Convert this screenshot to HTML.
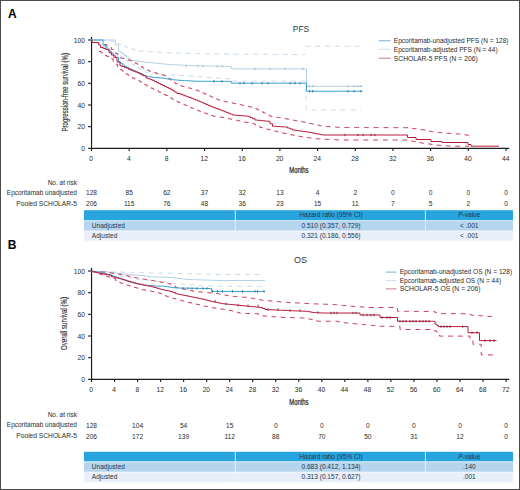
<!DOCTYPE html>
<html><head><meta charset="utf-8"><title>KM curves</title>
<style>
html,body{margin:0;padding:0;background:#fff;}
body{width:520px;height:490px;overflow:hidden;font-family:"Liberation Sans", sans-serif;}
svg{display:block;}
</style></head><body>
<svg width="520" height="490" viewBox="0 0 520 490" font-family="'Liberation Sans', sans-serif">
<rect x="0" y="0" width="520" height="490" fill="#fff"/>
<text x="8" y="17.5" font-size="12" font-weight="bold" fill="#000">A</text>
<text x="301.00" y="31.70" font-size="9.10" text-anchor="middle" fill="#333" textLength="16.4" lengthAdjust="spacingAndGlyphs">PFS</text>
<line x1="91.55" y1="37.00" x2="91.55" y2="148.90" stroke="#1e1e1e" stroke-width="1.2"/>
<line x1="90.95" y1="148.35" x2="509.3" y2="148.35" stroke="#1e1e1e" stroke-width="1.2"/>
<line x1="88" y1="148.35" x2="91.2" y2="148.35" stroke="#1e1e1e" stroke-width="1.1"/>
<text x="84.90" y="150.95" font-size="7.10" text-anchor="end" fill="#2a2a2a" textLength="3.73" lengthAdjust="spacingAndGlyphs">0</text>
<line x1="88" y1="126.68" x2="91.2" y2="126.68" stroke="#1e1e1e" stroke-width="1.1"/>
<text x="84.90" y="129.28" font-size="7.10" text-anchor="end" fill="#2a2a2a" textLength="7.45" lengthAdjust="spacingAndGlyphs">20</text>
<line x1="88" y1="105.01" x2="91.2" y2="105.01" stroke="#1e1e1e" stroke-width="1.1"/>
<text x="84.90" y="107.61" font-size="7.10" text-anchor="end" fill="#2a2a2a" textLength="7.45" lengthAdjust="spacingAndGlyphs">40</text>
<line x1="88" y1="83.34" x2="91.2" y2="83.34" stroke="#1e1e1e" stroke-width="1.1"/>
<text x="84.90" y="85.94" font-size="7.10" text-anchor="end" fill="#2a2a2a" textLength="7.45" lengthAdjust="spacingAndGlyphs">60</text>
<line x1="88" y1="61.67" x2="91.2" y2="61.67" stroke="#1e1e1e" stroke-width="1.1"/>
<text x="84.90" y="64.27" font-size="7.10" text-anchor="end" fill="#2a2a2a" textLength="7.45" lengthAdjust="spacingAndGlyphs">80</text>
<line x1="88" y1="40.00" x2="91.2" y2="40.00" stroke="#1e1e1e" stroke-width="1.1"/>
<text x="84.90" y="42.60" font-size="7.10" text-anchor="end" fill="#2a2a2a" textLength="11.18" lengthAdjust="spacingAndGlyphs">100</text>
<line x1="91.50" y1="148.00" x2="91.50" y2="151.00" stroke="#1e1e1e" stroke-width="1.1"/>
<text x="91.20" y="161.00" font-size="7.10" text-anchor="middle" fill="#2a2a2a" textLength="3.73" lengthAdjust="spacingAndGlyphs">0</text>
<line x1="129.18" y1="148.00" x2="129.18" y2="151.00" stroke="#1e1e1e" stroke-width="1.1"/>
<text x="128.88" y="161.00" font-size="7.10" text-anchor="middle" fill="#2a2a2a" textLength="3.73" lengthAdjust="spacingAndGlyphs">4</text>
<line x1="166.86" y1="148.00" x2="166.86" y2="151.00" stroke="#1e1e1e" stroke-width="1.1"/>
<text x="166.56" y="161.00" font-size="7.10" text-anchor="middle" fill="#2a2a2a" textLength="3.73" lengthAdjust="spacingAndGlyphs">8</text>
<line x1="204.54" y1="148.00" x2="204.54" y2="151.00" stroke="#1e1e1e" stroke-width="1.1"/>
<text x="204.24" y="161.00" font-size="7.10" text-anchor="middle" fill="#2a2a2a" textLength="7.45" lengthAdjust="spacingAndGlyphs">12</text>
<line x1="242.22" y1="148.00" x2="242.22" y2="151.00" stroke="#1e1e1e" stroke-width="1.1"/>
<text x="241.92" y="161.00" font-size="7.10" text-anchor="middle" fill="#2a2a2a" textLength="7.45" lengthAdjust="spacingAndGlyphs">16</text>
<line x1="279.90" y1="148.00" x2="279.90" y2="151.00" stroke="#1e1e1e" stroke-width="1.1"/>
<text x="279.60" y="161.00" font-size="7.10" text-anchor="middle" fill="#2a2a2a" textLength="7.45" lengthAdjust="spacingAndGlyphs">20</text>
<line x1="317.58" y1="148.00" x2="317.58" y2="151.00" stroke="#1e1e1e" stroke-width="1.1"/>
<text x="317.28" y="161.00" font-size="7.10" text-anchor="middle" fill="#2a2a2a" textLength="7.45" lengthAdjust="spacingAndGlyphs">24</text>
<line x1="355.26" y1="148.00" x2="355.26" y2="151.00" stroke="#1e1e1e" stroke-width="1.1"/>
<text x="354.96" y="161.00" font-size="7.10" text-anchor="middle" fill="#2a2a2a" textLength="7.45" lengthAdjust="spacingAndGlyphs">28</text>
<line x1="392.94" y1="148.00" x2="392.94" y2="151.00" stroke="#1e1e1e" stroke-width="1.1"/>
<text x="392.64" y="161.00" font-size="7.10" text-anchor="middle" fill="#2a2a2a" textLength="7.45" lengthAdjust="spacingAndGlyphs">32</text>
<line x1="430.62" y1="148.00" x2="430.62" y2="151.00" stroke="#1e1e1e" stroke-width="1.1"/>
<text x="430.32" y="161.00" font-size="7.10" text-anchor="middle" fill="#2a2a2a" textLength="7.45" lengthAdjust="spacingAndGlyphs">36</text>
<line x1="468.30" y1="148.00" x2="468.30" y2="151.00" stroke="#1e1e1e" stroke-width="1.1"/>
<text x="468.00" y="161.00" font-size="7.10" text-anchor="middle" fill="#2a2a2a" textLength="7.45" lengthAdjust="spacingAndGlyphs">40</text>
<line x1="505.98" y1="148.00" x2="505.98" y2="151.00" stroke="#1e1e1e" stroke-width="1.1"/>
<text x="505.68" y="161.00" font-size="7.10" text-anchor="middle" fill="#2a2a2a" textLength="7.45" lengthAdjust="spacingAndGlyphs">44</text>
<text x="0" y="0" font-size="8.2" text-anchor="middle" fill="#2a2a2a" stroke="#2a2a2a" stroke-width="0.25" transform="translate(298.9 172.8) scale(0.72 1)">Months</text>
<text x="0" y="0" font-size="8.2" text-anchor="middle" fill="#2a2a2a" stroke="#2a2a2a" stroke-width="0.12" transform="translate(68.3 92.3) rotate(-90) scale(0.745 1)">Progression-free survival (%)</text>
<path d="M91.20 40.00 L108.00 40.00 H110.00 V40.75 H112.00 V41.50 H114.00 V42.25 H116.00 V43.00 H118.00 V43.75 H120.00 V44.60 H122.00 V45.45 H124.00 V46.30 H126.00 V47.15 H128.00 V48.00 H130.00 V48.60 H132.00 V49.20 H134.00 V49.80 H136.00 V50.40 H138.00 V51.00 H140.27 V51.15 H142.55 V51.31 H144.82 V51.46 H147.09 V51.62 H149.36 V51.77 H151.64 V51.93 H153.91 V52.08 H156.18 V52.24 H158.45 V52.39 H160.73 V52.55 H163.00 V52.70 H165.24 V52.76 H167.48 V52.81 H169.71 V52.87 H171.95 V52.93 H174.19 V52.99 H176.43 V53.04 H178.67 V53.10 H180.90 V53.16 H183.14 V53.21 H185.38 V53.27 H187.62 V53.33 H189.86 V53.39 H192.10 V53.44 H194.33 V53.50 H196.57 V53.56 H198.81 V53.61 H201.05 V53.67 H203.29 V53.73 H205.52 V53.79 H207.76 V53.84 H210.00 V53.90 H212.14 V53.93 H214.29 V53.96 H216.43 V53.99 H218.57 V54.01 H220.71 V54.04 H222.86 V54.07 H225.00 V54.10 H227.14 V54.13 H229.29 V54.16 H231.43 V54.19 H233.57 V54.21 H235.71 V54.24 H237.86 V54.27 H240.00 V54.30 H242.18 V54.31 H244.37 V54.31 H246.55 V54.32 H248.73 V54.33 H250.92 V54.33 H253.10 V54.34 H255.28 V54.35 H257.47 V54.35 H259.65 V54.36 H261.83 V54.37 H264.02 V54.37 H266.20 V54.38 H268.38 V54.39 H270.57 V54.39 H272.75 V54.40 H274.93 V54.41 H277.12 V54.41 H279.30 V54.42 H281.48 V54.43 H283.67 V54.43 H285.85 V54.44 H288.03 V54.45 H290.22 V54.45 H292.40 V54.46 H294.58 V54.47 H296.77 V54.47 H298.95 V54.48 H301.13 V54.49 H303.32 V54.49 H305.50 V54.50" fill="none" stroke="#c0d8ea" stroke-width="0.90" stroke-dasharray="5 4.8"/>
<path d="M305.50 46.25 L361.00 46.25" fill="none" stroke="#c0d8ea" stroke-width="0.90" stroke-dasharray="5 4.8"/>
<path d="M95.00 42.00 H97.00 V43.25 H99.00 V44.50 H101.00 V45.75 H103.00 V47.00 H105.40 V48.20 H107.80 V49.40 H110.20 V50.60 H112.60 V51.80 H115.00 V53.00 H117.14 V54.43 H119.29 V55.86 H121.43 V57.29 H123.57 V58.71 H125.71 V60.14 H127.86 V61.57 H130.00 V63.00 H132.21 V64.36 H134.43 V65.71 H136.64 V67.07 H138.86 V68.43 H141.07 V69.79 H143.29 V71.14 H145.50 V72.50 H147.77 V72.73 H150.05 V72.95 H152.32 V73.18 H154.59 V73.41 H156.86 V73.64 H159.14 V73.86 H161.41 V74.09 H163.68 V74.32 H165.95 V74.55 H168.23 V74.77 H170.50 V75.00 H172.77 V75.11 H175.05 V75.23 H177.32 V75.34 H179.59 V75.45 H181.86 V75.57 H184.14 V75.68 H186.41 V75.80 H188.68 V75.91 H190.95 V76.02 H193.23 V76.14 H195.50 V76.25 H197.57 V76.43 H199.64 V76.61 H201.71 V76.79 H203.79 V76.96 H205.86 V77.14 H207.93 V77.32 H210.00 V77.50 H212.20 V77.65 H214.40 V77.80 H216.60 V77.95 H218.80 V78.10 H221.00 V78.25 H223.20 V78.40 H225.40 V78.55 H227.60 V78.70 H229.80 V78.85 H232.00 V79.00 L232.00 81.20 L306.00 81.20 L306.00 110.00 L361.00 110.00" fill="none" stroke="#c0d8ea" stroke-width="0.90" stroke-dasharray="5 4.8"/>
<path d="M91.20 40.00 L113.00 40.00 H115.40 V45.00 H118.50 V51.20 H120.53 V52.67 H122.57 V54.13 H124.60 V55.60 H126.67 V57.20 H128.73 V58.80 H130.80 V60.40 H132.83 V60.67 H134.87 V60.93 H136.90 V61.20 H138.93 V61.47 H140.97 V61.73 H143.00 V62.00 H145.21 V62.21 H147.43 V62.43 H149.64 V62.64 H151.86 V62.86 H154.07 V63.07 H156.29 V63.29 H158.50 V63.50 H160.55 V63.70 H162.60 V63.90 H164.65 V64.10 H166.70 V64.30 H168.75 V64.50 H170.80 V64.70 H173.10 V64.78 H175.40 V64.85 H177.70 V64.92 H180.00 V65.00 H182.21 V65.11 H184.43 V65.23 H186.64 V65.34 H188.86 V65.46 H191.07 V65.57 H193.29 V65.69 H195.50 V65.80 H197.74 V65.84 H199.97 V65.89 H202.21 V65.93 H204.45 V65.97 H206.69 V66.02 H208.93 V66.06 H211.16 V66.11 H213.40 V66.15 H215.64 V66.19 H217.88 V66.24 H220.11 V66.28 H222.35 V66.33 H224.59 V66.37 H226.83 V66.41 H229.06 V66.46 H231.30 V66.50 L231.30 68.90 L306.50 68.90 L306.50 86.25 L362.50 86.25" fill="none" stroke="#b2cfe5" stroke-width="1.00"/>
<path d="M104.00 44.50 H106.60 V45.90 H109.20 V47.30 H111.36 V49.44 H113.52 V51.58 H115.68 V53.72 H117.84 V55.86 H120.00 V58.00 H122.30 V58.60 H124.60 V59.20 H126.90 V59.80 H129.20 V60.40 H131.15 V61.35 H133.10 V62.30 H135.05 V63.25 H137.00 V64.20 H139.00 V65.50 H141.00 V66.80 H143.00 V68.10 H145.07 V69.13 H147.13 V70.17 H149.20 V71.20 H151.15 V71.78 H153.10 V72.35 H155.05 V72.92 H157.00 V73.50 H159.53 V74.27 H162.07 V75.03 H164.60 V75.80 H166.67 V77.33 H168.73 V78.87 H170.80 V80.40 H172.87 V81.93 H174.93 V83.47 H177.00 V85.00 H179.31 V85.62 H181.62 V86.25 H183.94 V86.88 H186.25 V87.50 H188.56 V88.12 H190.88 V88.75 H193.19 V89.38 H195.50 V90.00 H197.75 V91.00 H200.00 V92.00 H202.25 V93.00 H204.50 V94.00 H206.75 V95.00 H209.00 V96.00 H211.25 V97.00 H213.50 V98.00 H215.75 V99.00 H218.00 V100.00 H220.25 V100.62 H222.50 V101.25 H224.58 V101.67 H226.67 V102.08 H228.75 V102.50 H230.83 V102.92 H232.92 V103.33 H235.00 V103.75 H237.19 V104.22 H239.38 V104.69 H241.56 V105.16 H243.75 V105.62 H245.94 V106.09 H248.12 V106.56 H250.31 V107.03 H252.50 V107.50 H254.69 V108.59 H256.88 V109.69 H259.06 V110.78 H261.25 V111.88 H263.44 V112.97 H265.62 V114.06 H267.81 V115.16 H270.00 V116.25 H272.14 V116.61 H274.29 V116.96 H276.43 V117.32 H278.57 V117.68 H280.71 V118.04 H282.86 V118.39 H285.00 V118.75 H287.22 V119.17 H289.44 V119.58 H291.67 V120.00 H293.89 V120.42 H296.11 V120.83 H298.33 V121.25 H300.56 V121.67 H302.78 V122.08 H305.00 V122.50 H307.19 V122.97 H309.38 V123.44 H311.56 V123.91 H313.75 V124.38 H315.94 V124.84 H318.12 V125.31 H320.31 V125.78 H322.50 V126.25 H324.69 V126.41 H326.88 V126.56 H329.06 V126.72 H331.25 V126.88 H333.44 V127.03 H335.62 V127.19 H337.81 V127.34 H340.00 V127.50 H342.19 V127.51 H344.39 V127.51 H346.58 V127.52 H348.77 V127.53 H350.97 V127.53 H353.16 V127.54 H355.35 V127.55 H357.55 V127.55 H359.74 V127.56 H361.94 V127.56 H364.13 V127.57 H366.32 V127.58 H368.52 V127.58 H370.71 V127.59 H372.90 V127.60 H375.10 V127.60 H377.29 V127.61 H379.48 V127.62 H381.68 V127.62 H383.87 V127.63 H386.06 V127.64 H388.26 V127.64 H390.45 V127.65 H392.65 V127.65 H394.84 V127.66 H397.03 V127.67 H399.23 V127.67 H401.42 V127.68 H403.61 V127.69 H405.81 V127.69 H408.00 V127.70 H410.00 V128.07 H412.00 V128.43 H414.00 V128.80 H416.25 V129.10 H418.50 V129.40 H420.75 V129.70 H423.00 V130.00 H425.25 V130.45 H427.50 V130.90 H429.75 V131.35 H432.00 V131.80 H434.25 V132.05 H436.50 V132.30 H438.75 V132.55 H441.00 V132.80 H443.00 V132.94 H445.00 V133.08 H447.00 V133.22 H449.00 V133.36 H451.00 V133.50 H453.25 V133.68 H455.50 V133.85 H457.75 V134.02 H460.00 V134.20 H462.30 V134.52 H464.60 V134.84 H466.90 V135.16 H469.20 V135.48 H471.50 V135.80" fill="none" stroke="#c9405f" stroke-width="1.00" stroke-dasharray="5 4.8"/>
<path d="M99.00 51.50 H101.00 V52.85 H103.00 V54.20 H104.95 V55.35 H106.90 V56.50 H108.85 V57.65 H110.80 V58.80 H113.10 V61.50 H115.40 V64.20 H117.70 V66.90 H120.00 V69.60 H122.07 V71.13 H124.13 V72.67 H126.20 V74.20 H128.23 V75.50 H130.27 V76.80 H132.30 V78.10 H134.87 V79.37 H137.43 V80.63 H140.00 V81.90 H142.07 V83.20 H144.13 V84.50 H146.20 V85.80 H148.73 V87.07 H151.27 V88.33 H153.80 V89.60 H156.37 V90.90 H158.93 V92.20 H161.50 V93.50 H163.57 V94.50 H165.63 V95.50 H167.70 V96.50 H169.73 V97.80 H171.77 V99.10 H173.80 V100.40 H175.97 V101.36 H178.14 V102.32 H180.31 V103.28 H182.48 V104.24 H184.65 V105.20 H186.82 V106.16 H188.99 V107.12 H191.16 V108.08 H193.33 V109.04 H195.50 V110.00 H197.69 V110.78 H199.88 V111.56 H202.06 V112.34 H204.25 V113.12 H206.44 V113.91 H208.62 V114.69 H210.81 V115.47 H213.00 V116.25 H215.38 V116.56 H217.75 V116.88 H220.12 V117.19 H222.50 V117.50 H224.69 V117.97 H226.88 V118.44 H229.06 V118.91 H231.25 V119.38 H233.44 V119.84 H235.62 V120.31 H237.81 V120.78 H240.00 V121.25 H242.08 V121.67 H244.17 V122.08 H246.25 V122.50 H248.33 V122.92 H250.42 V123.33 H252.50 V123.75 H255.00 V125.00 H257.50 V126.25 H260.00 V127.50 H262.22 V128.06 H264.44 V128.61 H266.67 V129.17 H268.89 V129.72 H271.11 V130.28 H273.33 V130.83 H275.56 V131.39 H277.78 V131.94 H280.00 V132.50 H282.19 V132.97 H284.38 V133.44 H286.56 V133.91 H288.75 V134.38 H290.94 V134.84 H293.12 V135.31 H295.31 V135.78 H297.50 V136.25 H299.69 V136.56 H301.88 V136.88 H304.06 V137.19 H306.25 V137.50 H308.44 V137.81 H310.62 V138.12 H312.81 V138.44 H315.00 V138.75 H317.27 V138.86 H319.55 V138.98 H321.82 V139.09 H324.09 V139.20 H326.36 V139.32 H328.64 V139.43 H330.91 V139.55 H333.18 V139.66 H335.45 V139.77 H337.73 V139.89 H340.00 V140.00 L405.00 140.00 H407.25 V140.38 H409.50 V140.75 H411.75 V141.12 H414.00 V141.50 H416.25 V141.97 H418.50 V142.45 H420.75 V142.93 H423.00 V143.40 H425.25 V143.68 H427.50 V143.95 H429.75 V144.22 H432.00 V144.50 H434.38 V144.80 H436.75 V145.10 H439.12 V145.40 H441.50 V145.70 H443.82 V145.82 H446.15 V145.95 H448.48 V146.07 H450.80 V146.20 L469.00 146.20" fill="none" stroke="#c9405f" stroke-width="1.00" stroke-dasharray="5 4.8"/>
<path d="M91.20 40.00 L101.00 40.00 H103.00 V45.00 H105.07 V47.07 H107.13 V49.13 H109.20 V51.20 H111.27 V53.23 H113.33 V55.27 H115.40 V57.30 H118.50 V61.90 H120.53 V63.43 H122.57 V64.97 H124.60 V66.50 H126.67 V67.53 H128.73 V68.57 H130.80 V69.60 H133.10 V70.57 H135.40 V71.55 H137.70 V72.53 H140.00 V73.50 H142.07 V74.50 H144.13 V75.50 H146.20 V76.50 H148.23 V76.77 H150.27 V77.03 H152.30 V77.30 H154.60 V77.50 H156.90 V77.70 H159.20 V77.90 H161.50 V78.10 H163.82 V78.47 H166.15 V78.85 H168.48 V79.22 H170.80 V79.60 H173.10 V79.80 H175.40 V80.00 H177.70 V80.20 H180.00 V80.40 H182.21 V80.52 H184.43 V80.64 H186.64 V80.76 H188.86 V80.89 H191.07 V81.01 H193.29 V81.13 H195.50 V81.25 H197.74 V81.26 H199.97 V81.27 H202.21 V81.28 H204.45 V81.29 H206.69 V81.30 H208.93 V81.31 H211.16 V81.32 H213.40 V81.33 H215.64 V81.33 H217.88 V81.34 H220.11 V81.35 H222.35 V81.36 H224.59 V81.37 H226.83 V81.38 H229.06 V81.39 H231.30 V81.40 L231.30 83.20 L306.50 83.20 L306.50 91.25 L362.50 91.25" fill="none" stroke="#36a2d2" stroke-width="1.00"/>
<path d="M91.20 40.00 H92.00 V42.50 L97.00 42.50 H98.75 V45.00 H100.50 V47.50 H103.25 V48.55 H106.00 V49.60 H109.00 V52.70 H111.40 V55.00 H113.80 V57.30 H117.00 V62.00 H120.00 V65.80 H122.07 V66.57 H124.13 V67.33 H126.20 V68.10 H128.50 V69.25 H130.80 V70.40 H132.87 V71.17 H134.93 V71.93 H137.00 V72.70 H139.00 V73.73 H141.00 V74.77 H143.00 V75.80 H146.20 V78.10 H148.23 V78.87 H150.27 V79.63 H152.30 V80.40 H154.37 V81.43 H156.43 V82.47 H158.50 V83.50 H160.53 V84.50 H162.57 V85.50 H164.60 V86.50 H166.67 V87.53 H168.73 V88.57 H170.80 V89.60 H172.87 V90.90 H174.93 V92.20 H177.00 V93.50 H180.00 V94.20 H182.21 V95.03 H184.43 V95.86 H186.64 V96.69 H188.86 V97.51 H191.07 V98.34 H193.29 V99.17 H195.50 V100.00 H197.57 V100.89 H199.64 V101.79 H201.71 V102.68 H203.79 V103.57 H205.86 V104.46 H207.93 V105.36 H210.00 V106.25 H212.00 V107.00 H214.00 V107.75 H216.00 V108.50 H218.00 V109.25 H220.00 V110.00 H222.08 V110.83 H224.17 V111.67 H226.25 V112.50 H228.33 V113.33 H230.42 V114.17 H232.50 V115.00 H234.64 V115.18 H236.79 V115.36 H238.93 V115.54 H241.07 V115.71 H243.21 V115.89 H245.36 V116.07 H247.50 V116.25 H250.00 V117.50 H252.50 V118.75 H255.00 V120.00 H257.08 V120.21 H259.17 V120.42 H261.25 V120.62 H263.33 V120.83 H265.42 V121.04 H267.50 V121.25 H270.00 V123.75 H272.50 V126.25 H274.58 V126.38 H276.67 V126.50 H278.75 V126.62 H280.83 V126.75 H282.92 V126.88 H285.00 V127.00 H287.50 V128.00 H290.00 V129.00 H292.50 V130.00 H294.69 V130.31 H296.88 V130.62 H299.06 V130.94 H301.25 V131.25 H303.44 V131.56 H305.62 V131.88 H307.81 V132.19 H310.00 V132.50 H312.08 V132.92 H314.17 V133.33 H316.25 V133.75 H318.33 V134.17 H320.42 V134.58 H322.50 V135.00 L407.50 135.00 L407.50 137.50 L416.00 137.50 L416.00 139.50 L431.00 139.50 L431.00 141.50 L442.00 141.50 L442.00 142.50 L468.00 142.50 L468.00 144.50 L471.00 144.50 L471.00 146.20 L499.00 146.20" fill="none" stroke="#bb1a3d" stroke-width="1.00"/>
<line x1="214.00" y1="80.20" x2="214.00" y2="82.60" stroke="#1f5f85" stroke-width="0.8"/>
<line x1="222.00" y1="80.20" x2="222.00" y2="82.60" stroke="#1f5f85" stroke-width="0.8"/>
<line x1="240.00" y1="82.00" x2="240.00" y2="84.40" stroke="#1f5f85" stroke-width="0.8"/>
<line x1="244.00" y1="82.00" x2="244.00" y2="84.40" stroke="#1f5f85" stroke-width="0.8"/>
<line x1="252.00" y1="82.00" x2="252.00" y2="84.40" stroke="#1f5f85" stroke-width="0.8"/>
<line x1="262.00" y1="82.00" x2="262.00" y2="84.40" stroke="#1f5f85" stroke-width="0.8"/>
<line x1="268.00" y1="82.00" x2="268.00" y2="84.40" stroke="#1f5f85" stroke-width="0.8"/>
<line x1="290.00" y1="82.00" x2="290.00" y2="84.40" stroke="#1f5f85" stroke-width="0.8"/>
<line x1="295.00" y1="82.00" x2="295.00" y2="84.40" stroke="#1f5f85" stroke-width="0.8"/>
<line x1="300.00" y1="82.00" x2="300.00" y2="84.40" stroke="#1f5f85" stroke-width="0.8"/>
<line x1="186.00" y1="65.20" x2="186.00" y2="67.40" stroke="#8fb0cc" stroke-width="0.8"/>
<line x1="198.00" y1="65.20" x2="198.00" y2="67.40" stroke="#8fb0cc" stroke-width="0.8"/>
<line x1="203.00" y1="65.20" x2="203.00" y2="67.40" stroke="#8fb0cc" stroke-width="0.8"/>
<line x1="217.00" y1="65.20" x2="217.00" y2="67.40" stroke="#8fb0cc" stroke-width="0.8"/>
<line x1="222.00" y1="65.20" x2="222.00" y2="67.40" stroke="#8fb0cc" stroke-width="0.8"/>
<line x1="255.00" y1="67.80" x2="255.00" y2="70.00" stroke="#8fb0cc" stroke-width="0.8"/>
<line x1="270.00" y1="67.80" x2="270.00" y2="70.00" stroke="#8fb0cc" stroke-width="0.8"/>
<line x1="285.00" y1="67.80" x2="285.00" y2="70.00" stroke="#8fb0cc" stroke-width="0.8"/>
<line x1="303.00" y1="67.80" x2="303.00" y2="70.00" stroke="#8fb0cc" stroke-width="0.8"/>
<line x1="309.60" y1="90.05" x2="309.60" y2="92.45" stroke="#1f5f85" stroke-width="0.8"/>
<line x1="312.70" y1="90.05" x2="312.70" y2="92.45" stroke="#1f5f85" stroke-width="0.8"/>
<line x1="348.00" y1="90.05" x2="348.00" y2="92.45" stroke="#1f5f85" stroke-width="0.8"/>
<line x1="354.00" y1="90.05" x2="354.00" y2="92.45" stroke="#1f5f85" stroke-width="0.8"/>
<line x1="361.00" y1="90.05" x2="361.00" y2="92.45" stroke="#1f5f85" stroke-width="0.8"/>
<line x1="309.60" y1="85.15" x2="309.60" y2="87.35" stroke="#8fb0cc" stroke-width="0.8"/>
<line x1="312.70" y1="85.15" x2="312.70" y2="87.35" stroke="#8fb0cc" stroke-width="0.8"/>
<line x1="348.00" y1="85.15" x2="348.00" y2="87.35" stroke="#8fb0cc" stroke-width="0.8"/>
<line x1="354.00" y1="85.15" x2="354.00" y2="87.35" stroke="#8fb0cc" stroke-width="0.8"/>
<line x1="358.00" y1="85.15" x2="358.00" y2="87.35" stroke="#8fb0cc" stroke-width="0.8"/>
<line x1="361.00" y1="85.15" x2="361.00" y2="87.35" stroke="#8fb0cc" stroke-width="0.8"/>
<line x1="345.00" y1="133.80" x2="345.00" y2="136.20" stroke="#6e1030" stroke-width="0.8"/>
<line x1="358.00" y1="133.80" x2="358.00" y2="136.20" stroke="#6e1030" stroke-width="0.8"/>
<line x1="363.00" y1="133.80" x2="363.00" y2="136.20" stroke="#6e1030" stroke-width="0.8"/>
<line x1="371.00" y1="133.80" x2="371.00" y2="136.20" stroke="#6e1030" stroke-width="0.8"/>
<line x1="375.00" y1="133.80" x2="375.00" y2="136.20" stroke="#6e1030" stroke-width="0.8"/>
<line x1="378.8" y1="40.80" x2="390.6" y2="40.80" stroke="#6aa3d2" stroke-width="0.9"/>
<text x="393.80" y="43.15" font-size="6.93" text-anchor="start" fill="#2a2a2a" textLength="114.69" lengthAdjust="spacingAndGlyphs">Epcoritamab-unadjusted PFS (N = 128)</text>
<line x1="378.8" y1="49.30" x2="390.6" y2="49.30" stroke="#c4dde9" stroke-width="0.9"/>
<text x="393.80" y="51.65" font-size="6.93" text-anchor="start" fill="#2a2a2a" textLength="103.78" lengthAdjust="spacingAndGlyphs">Epcoritamab-adjusted PFS (N = 44)</text>
<line x1="378.8" y1="58.20" x2="390.6" y2="58.20" stroke="#c66a82" stroke-width="0.9"/>
<text x="393.80" y="60.55" font-size="6.93" text-anchor="start" fill="#2a2a2a" textLength="83.9" lengthAdjust="spacingAndGlyphs">SCHOLAR-5 PFS (N = 206)</text>
<text x="76.90" y="184.70" font-size="6.89" text-anchor="end" fill="#2a2a2a" textLength="29.26" lengthAdjust="spacingAndGlyphs">No. at risk</text>
<text x="76.90" y="195.00" font-size="6.89" text-anchor="end" fill="#2a2a2a" textLength="70.10" lengthAdjust="spacingAndGlyphs">Epcoritamab unadjusted</text>
<text x="76.90" y="205.90" font-size="6.89" text-anchor="end" fill="#2a2a2a" textLength="60.6" lengthAdjust="spacingAndGlyphs">Pooled SCHOLAR-5</text>
<text x="91.50" y="195.10" font-size="7.00" text-anchor="middle" fill="#2a2a2a" textLength="11.01" lengthAdjust="spacingAndGlyphs">128</text>
<text x="91.50" y="205.90" font-size="7.00" text-anchor="middle" fill="#2a2a2a" textLength="11.01" lengthAdjust="spacingAndGlyphs">206</text>
<text x="129.18" y="195.10" font-size="7.00" text-anchor="middle" fill="#2a2a2a" textLength="7.34" lengthAdjust="spacingAndGlyphs">85</text>
<text x="129.18" y="205.90" font-size="7.00" text-anchor="middle" fill="#2a2a2a" textLength="10.52" lengthAdjust="spacingAndGlyphs">115</text>
<text x="166.86" y="195.10" font-size="7.00" text-anchor="middle" fill="#2a2a2a" textLength="7.34" lengthAdjust="spacingAndGlyphs">62</text>
<text x="166.86" y="205.90" font-size="7.00" text-anchor="middle" fill="#2a2a2a" textLength="7.34" lengthAdjust="spacingAndGlyphs">76</text>
<text x="204.54" y="195.10" font-size="7.00" text-anchor="middle" fill="#2a2a2a" textLength="7.34" lengthAdjust="spacingAndGlyphs">37</text>
<text x="204.54" y="205.90" font-size="7.00" text-anchor="middle" fill="#2a2a2a" textLength="7.34" lengthAdjust="spacingAndGlyphs">48</text>
<text x="242.22" y="195.10" font-size="7.00" text-anchor="middle" fill="#2a2a2a" textLength="7.34" lengthAdjust="spacingAndGlyphs">32</text>
<text x="242.22" y="205.90" font-size="7.00" text-anchor="middle" fill="#2a2a2a" textLength="7.34" lengthAdjust="spacingAndGlyphs">36</text>
<text x="279.90" y="195.10" font-size="7.00" text-anchor="middle" fill="#2a2a2a" textLength="7.34" lengthAdjust="spacingAndGlyphs">13</text>
<text x="279.90" y="205.90" font-size="7.00" text-anchor="middle" fill="#2a2a2a" textLength="7.34" lengthAdjust="spacingAndGlyphs">23</text>
<text x="317.58" y="195.10" font-size="7.00" text-anchor="middle" fill="#2a2a2a" textLength="3.67" lengthAdjust="spacingAndGlyphs">4</text>
<text x="317.58" y="205.90" font-size="7.00" text-anchor="middle" fill="#2a2a2a" textLength="7.34" lengthAdjust="spacingAndGlyphs">15</text>
<text x="355.26" y="195.10" font-size="7.00" text-anchor="middle" fill="#2a2a2a" textLength="3.67" lengthAdjust="spacingAndGlyphs">2</text>
<text x="355.26" y="205.90" font-size="7.00" text-anchor="middle" fill="#2a2a2a" textLength="6.85" lengthAdjust="spacingAndGlyphs">11</text>
<text x="392.94" y="195.10" font-size="7.00" text-anchor="middle" fill="#2a2a2a" textLength="3.67" lengthAdjust="spacingAndGlyphs">0</text>
<text x="392.94" y="205.90" font-size="7.00" text-anchor="middle" fill="#2a2a2a" textLength="3.67" lengthAdjust="spacingAndGlyphs">7</text>
<text x="430.62" y="195.10" font-size="7.00" text-anchor="middle" fill="#2a2a2a" textLength="3.67" lengthAdjust="spacingAndGlyphs">0</text>
<text x="430.62" y="205.90" font-size="7.00" text-anchor="middle" fill="#2a2a2a" textLength="3.67" lengthAdjust="spacingAndGlyphs">5</text>
<text x="468.30" y="195.10" font-size="7.00" text-anchor="middle" fill="#2a2a2a" textLength="3.67" lengthAdjust="spacingAndGlyphs">0</text>
<text x="468.30" y="205.90" font-size="7.00" text-anchor="middle" fill="#2a2a2a" textLength="3.67" lengthAdjust="spacingAndGlyphs">2</text>
<text x="505.98" y="195.10" font-size="7.00" text-anchor="middle" fill="#2a2a2a" textLength="3.67" lengthAdjust="spacingAndGlyphs">0</text>
<text x="505.98" y="205.90" font-size="7.00" text-anchor="middle" fill="#2a2a2a" textLength="3.67" lengthAdjust="spacingAndGlyphs">0</text>
<rect x="84" y="210.20" width="429" height="9.90" fill="#28a5df"/>
<rect x="84" y="220.10" width="429" height="10.70" fill="#b5d4ee"/>
<rect x="84" y="230.80" width="429" height="9.80" fill="#e8eff8"/>
<rect x="84" y="220.10" width="429" height="1.1" fill="#c9e7f7"/>
<line x1="84" y1="231.20" x2="513" y2="231.20" stroke="#f4f8fc" stroke-width="0.8"/>
<line x1="235.30" y1="210.20" x2="235.30" y2="240.60" stroke="#e6f4fc" stroke-width="0.9"/>
<line x1="425.40" y1="210.20" x2="425.40" y2="240.60" stroke="#e6f4fc" stroke-width="0.9"/>
<text x="331.00" y="217.45" font-size="6.94" text-anchor="middle" fill="#25344a" textLength="63.34" lengthAdjust="spacingAndGlyphs">Hazard ratio (95% CI)</text>
<text x="469.3" y="217.45" font-size="6.55" text-anchor="middle" fill="#25344a"><tspan font-style="italic">P</tspan>-value</text>
<text x="91.80" y="227.75" font-size="6.94" text-anchor="start" fill="#25344a" textLength="33.14" lengthAdjust="spacingAndGlyphs">Unadjusted</text>
<text x="91.80" y="238.00" font-size="6.94" text-anchor="start" fill="#25344a" textLength="25.49" lengthAdjust="spacingAndGlyphs">Adjusted</text>
<text x="331.00" y="227.75" font-size="6.94" text-anchor="middle" fill="#25344a" textLength="59.00" lengthAdjust="spacingAndGlyphs">0.510 (0.357, 0.729)</text>
<text x="331.00" y="238.00" font-size="6.94" text-anchor="middle" fill="#25344a" textLength="59.00" lengthAdjust="spacingAndGlyphs">0.321 (0.186, 0.556)</text>
<text x="469.30" y="227.75" font-size="6.94" text-anchor="middle" fill="#25344a" textLength="18.39" lengthAdjust="spacingAndGlyphs">&lt; .001</text>
<text x="469.30" y="238.00" font-size="6.94" text-anchor="middle" fill="#25344a" textLength="18.39" lengthAdjust="spacingAndGlyphs">&lt; .001</text>
<text x="7.8" y="248.8" font-size="12" font-weight="bold" fill="#000">B</text>
<text x="300.50" y="262.80" font-size="9.30" text-anchor="middle" fill="#333" textLength="13.1" lengthAdjust="spacingAndGlyphs">OS</text>
<line x1="91.55" y1="268.00" x2="91.55" y2="379.90" stroke="#1e1e1e" stroke-width="1.2"/>
<line x1="90.95" y1="379.35" x2="509.3" y2="379.35" stroke="#1e1e1e" stroke-width="1.2"/>
<line x1="88" y1="379.35" x2="91.2" y2="379.35" stroke="#1e1e1e" stroke-width="1.1"/>
<text x="84.90" y="381.95" font-size="7.10" text-anchor="end" fill="#2a2a2a" textLength="3.73" lengthAdjust="spacingAndGlyphs">0</text>
<line x1="88" y1="357.68" x2="91.2" y2="357.68" stroke="#1e1e1e" stroke-width="1.1"/>
<text x="84.90" y="360.28" font-size="7.10" text-anchor="end" fill="#2a2a2a" textLength="7.45" lengthAdjust="spacingAndGlyphs">20</text>
<line x1="88" y1="336.01" x2="91.2" y2="336.01" stroke="#1e1e1e" stroke-width="1.1"/>
<text x="84.90" y="338.61" font-size="7.10" text-anchor="end" fill="#2a2a2a" textLength="7.45" lengthAdjust="spacingAndGlyphs">40</text>
<line x1="88" y1="314.34" x2="91.2" y2="314.34" stroke="#1e1e1e" stroke-width="1.1"/>
<text x="84.90" y="316.94" font-size="7.10" text-anchor="end" fill="#2a2a2a" textLength="7.45" lengthAdjust="spacingAndGlyphs">60</text>
<line x1="88" y1="292.67" x2="91.2" y2="292.67" stroke="#1e1e1e" stroke-width="1.1"/>
<text x="84.90" y="295.27" font-size="7.10" text-anchor="end" fill="#2a2a2a" textLength="7.45" lengthAdjust="spacingAndGlyphs">80</text>
<line x1="88" y1="271.00" x2="91.2" y2="271.00" stroke="#1e1e1e" stroke-width="1.1"/>
<text x="84.90" y="273.60" font-size="7.10" text-anchor="end" fill="#2a2a2a" textLength="11.18" lengthAdjust="spacingAndGlyphs">100</text>
<line x1="91.50" y1="379.00" x2="91.50" y2="382.00" stroke="#1e1e1e" stroke-width="1.1"/>
<text x="91.20" y="392.00" font-size="7.10" text-anchor="middle" fill="#2a2a2a" textLength="3.73" lengthAdjust="spacingAndGlyphs">0</text>
<line x1="114.53" y1="379.00" x2="114.53" y2="382.00" stroke="#1e1e1e" stroke-width="1.1"/>
<text x="114.23" y="392.00" font-size="7.10" text-anchor="middle" fill="#2a2a2a" textLength="3.73" lengthAdjust="spacingAndGlyphs">4</text>
<line x1="137.56" y1="379.00" x2="137.56" y2="382.00" stroke="#1e1e1e" stroke-width="1.1"/>
<text x="137.26" y="392.00" font-size="7.10" text-anchor="middle" fill="#2a2a2a" textLength="3.73" lengthAdjust="spacingAndGlyphs">8</text>
<line x1="160.59" y1="379.00" x2="160.59" y2="382.00" stroke="#1e1e1e" stroke-width="1.1"/>
<text x="160.29" y="392.00" font-size="7.10" text-anchor="middle" fill="#2a2a2a" textLength="7.45" lengthAdjust="spacingAndGlyphs">12</text>
<line x1="183.62" y1="379.00" x2="183.62" y2="382.00" stroke="#1e1e1e" stroke-width="1.1"/>
<text x="183.32" y="392.00" font-size="7.10" text-anchor="middle" fill="#2a2a2a" textLength="7.45" lengthAdjust="spacingAndGlyphs">16</text>
<line x1="206.65" y1="379.00" x2="206.65" y2="382.00" stroke="#1e1e1e" stroke-width="1.1"/>
<text x="206.35" y="392.00" font-size="7.10" text-anchor="middle" fill="#2a2a2a" textLength="7.45" lengthAdjust="spacingAndGlyphs">20</text>
<line x1="229.68" y1="379.00" x2="229.68" y2="382.00" stroke="#1e1e1e" stroke-width="1.1"/>
<text x="229.38" y="392.00" font-size="7.10" text-anchor="middle" fill="#2a2a2a" textLength="7.45" lengthAdjust="spacingAndGlyphs">24</text>
<line x1="252.71" y1="379.00" x2="252.71" y2="382.00" stroke="#1e1e1e" stroke-width="1.1"/>
<text x="252.41" y="392.00" font-size="7.10" text-anchor="middle" fill="#2a2a2a" textLength="7.45" lengthAdjust="spacingAndGlyphs">28</text>
<line x1="275.74" y1="379.00" x2="275.74" y2="382.00" stroke="#1e1e1e" stroke-width="1.1"/>
<text x="275.44" y="392.00" font-size="7.10" text-anchor="middle" fill="#2a2a2a" textLength="7.45" lengthAdjust="spacingAndGlyphs">32</text>
<line x1="298.77" y1="379.00" x2="298.77" y2="382.00" stroke="#1e1e1e" stroke-width="1.1"/>
<text x="298.47" y="392.00" font-size="7.10" text-anchor="middle" fill="#2a2a2a" textLength="7.45" lengthAdjust="spacingAndGlyphs">36</text>
<line x1="321.80" y1="379.00" x2="321.80" y2="382.00" stroke="#1e1e1e" stroke-width="1.1"/>
<text x="321.50" y="392.00" font-size="7.10" text-anchor="middle" fill="#2a2a2a" textLength="7.45" lengthAdjust="spacingAndGlyphs">40</text>
<line x1="344.83" y1="379.00" x2="344.83" y2="382.00" stroke="#1e1e1e" stroke-width="1.1"/>
<text x="344.53" y="392.00" font-size="7.10" text-anchor="middle" fill="#2a2a2a" textLength="7.45" lengthAdjust="spacingAndGlyphs">44</text>
<line x1="367.86" y1="379.00" x2="367.86" y2="382.00" stroke="#1e1e1e" stroke-width="1.1"/>
<text x="367.56" y="392.00" font-size="7.10" text-anchor="middle" fill="#2a2a2a" textLength="7.45" lengthAdjust="spacingAndGlyphs">48</text>
<line x1="390.89" y1="379.00" x2="390.89" y2="382.00" stroke="#1e1e1e" stroke-width="1.1"/>
<text x="390.59" y="392.00" font-size="7.10" text-anchor="middle" fill="#2a2a2a" textLength="7.45" lengthAdjust="spacingAndGlyphs">52</text>
<line x1="413.92" y1="379.00" x2="413.92" y2="382.00" stroke="#1e1e1e" stroke-width="1.1"/>
<text x="413.62" y="392.00" font-size="7.10" text-anchor="middle" fill="#2a2a2a" textLength="7.45" lengthAdjust="spacingAndGlyphs">56</text>
<line x1="436.95" y1="379.00" x2="436.95" y2="382.00" stroke="#1e1e1e" stroke-width="1.1"/>
<text x="436.65" y="392.00" font-size="7.10" text-anchor="middle" fill="#2a2a2a" textLength="7.45" lengthAdjust="spacingAndGlyphs">60</text>
<line x1="459.98" y1="379.00" x2="459.98" y2="382.00" stroke="#1e1e1e" stroke-width="1.1"/>
<text x="459.68" y="392.00" font-size="7.10" text-anchor="middle" fill="#2a2a2a" textLength="7.45" lengthAdjust="spacingAndGlyphs">64</text>
<line x1="483.01" y1="379.00" x2="483.01" y2="382.00" stroke="#1e1e1e" stroke-width="1.1"/>
<text x="482.71" y="392.00" font-size="7.10" text-anchor="middle" fill="#2a2a2a" textLength="7.45" lengthAdjust="spacingAndGlyphs">68</text>
<line x1="506.04" y1="379.00" x2="506.04" y2="382.00" stroke="#1e1e1e" stroke-width="1.1"/>
<text x="505.74" y="392.00" font-size="7.10" text-anchor="middle" fill="#2a2a2a" textLength="7.45" lengthAdjust="spacingAndGlyphs">72</text>
<text x="0" y="0" font-size="8.2" text-anchor="middle" fill="#2a2a2a" stroke="#2a2a2a" stroke-width="0.25" transform="translate(298.9 405.3) scale(0.72 1)">Months</text>
<text x="0" y="0" font-size="8.2" text-anchor="middle" fill="#2a2a2a" stroke="#2a2a2a" stroke-width="0.12" transform="translate(67.0 323.5) rotate(-90) scale(0.75 1)">Overall survival (%)</text>
<path d="M91.30 271.40 H93.47 V271.45 H95.63 V271.51 H97.80 V271.56 H99.97 V271.61 H102.13 V271.67 H104.30 V271.72 H106.47 V271.77 H108.63 V271.83 H110.80 V271.88 H112.97 V271.93 H115.13 V271.99 H117.30 V272.04 H119.47 V272.09 H121.63 V272.15 H123.80 V272.20 H125.93 V272.26 H128.06 V272.32 H130.19 V272.38 H132.32 V272.45 H134.45 V272.51 H136.58 V272.57 H138.72 V272.63 H140.85 V272.69 H142.98 V272.75 H145.11 V272.82 H147.24 V272.88 H149.37 V272.94 H151.50 V273.00 H153.81 V273.04 H156.12 V273.07 H158.44 V273.11 H160.75 V273.15 H163.06 V273.19 H165.38 V273.23 H167.69 V273.26 H170.00 V273.30 H172.18 V273.35 H174.36 V273.41 H176.55 V273.46 H178.73 V273.52 H180.91 V273.57 H183.09 V273.63 H185.27 V273.68 H187.45 V273.74 H189.64 V273.79 H191.82 V273.85 H194.00 V273.90 H196.18 V273.95 H198.36 V274.01 H200.55 V274.06 H202.73 V274.12 H204.91 V274.17 H207.09 V274.23 H209.27 V274.28 H211.45 V274.34 H213.64 V274.39 H215.82 V274.45 H218.00 V274.50 L265.00 274.50" fill="none" stroke="#c0d8ea" stroke-width="0.90" stroke-dasharray="5 4.8"/>
<path d="M120.00 276.00 H122.13 V276.42 H124.27 V276.84 H126.40 V277.27 H128.53 V277.69 H130.67 V278.11 H132.80 V278.53 H134.93 V278.96 H137.07 V279.38 H139.20 V279.80 H141.42 V279.98 H143.64 V280.16 H145.87 V280.33 H148.09 V280.51 H150.31 V280.69 H152.53 V280.87 H154.76 V281.04 H156.98 V281.22 H159.20 V281.40 H161.36 V281.72 H163.52 V282.04 H165.68 V282.36 H167.84 V282.68 H170.00 V283.00 H172.18 V283.20 H174.36 V283.39 H176.54 V283.59 H178.71 V283.79 H180.89 V283.98 H183.07 V284.18 H185.25 V284.38 H187.43 V284.57 H189.61 V284.77 H191.79 V284.96 H193.96 V285.16 H196.14 V285.36 H198.32 V285.55 H200.50 V285.75 H202.69 V285.81 H204.88 V285.88 H207.06 V285.94 H209.25 V286.00 H211.44 V286.06 H213.62 V286.12 H215.81 V286.19 H218.00 V286.25 L265.00 286.25" fill="none" stroke="#c0d8ea" stroke-width="0.90" stroke-dasharray="5 4.8"/>
<path d="M91.30 271.40 H93.58 V271.47 H95.87 V271.53 H98.15 V271.60 H100.43 V271.67 H102.72 V271.73 H105.00 V271.80 H107.26 V272.07 H109.51 V272.34 H111.77 V272.61 H114.03 V272.89 H116.29 V273.16 H118.54 V273.43 H120.80 V273.70 H123.00 V273.91 H125.20 V274.13 H127.40 V274.34 H129.60 V274.56 H131.80 V274.77 H134.00 V274.99 H136.20 V275.20 H138.39 V275.43 H140.57 V275.66 H142.76 V275.89 H144.94 V276.11 H147.13 V276.34 H149.31 V276.57 H151.50 V276.80 H153.81 V276.89 H156.12 V276.98 H158.44 V277.06 H160.75 V277.15 H163.06 V277.24 H165.38 V277.32 H167.69 V277.41 H170.00 V277.50 H172.25 V277.75 H174.50 V278.00 H176.75 V278.25 H179.00 V278.50 H181.25 V278.75 H183.50 V279.00 H185.75 V279.25 H188.00 V279.50 H190.14 V279.57 H192.29 V279.64 H194.43 V279.71 H196.57 V279.79 H198.71 V279.86 H200.86 V279.93 H203.00 V280.00 H205.14 V280.07 H207.29 V280.14 H209.43 V280.21 H211.57 V280.29 H213.71 V280.36 H215.86 V280.43 H218.00 V280.50 L265.00 280.50" fill="none" stroke="#b2cfe5" stroke-width="1.00"/>
<path d="M91.30 271.40 H93.65 V271.53 H96.00 V271.67 H98.35 V271.80 H100.70 V271.93 H103.05 V272.07 H105.40 V272.20 H107.70 V272.57 H110.00 V272.95 H112.30 V273.32 H114.60 V273.70 H116.90 V274.07 H119.20 V274.45 H121.50 V274.82 H123.80 V275.20 H126.12 V275.77 H128.45 V276.35 H130.78 V276.93 H133.10 V277.50 H135.40 V277.88 H137.70 V278.25 H140.00 V278.62 H142.30 V279.00 H144.60 V279.40 H146.90 V279.80 H149.20 V280.20 H151.50 V280.60 H153.82 V281.00 H156.15 V281.40 H158.48 V281.80 H160.80 V282.20 H163.37 V282.70 H165.93 V283.20 H168.50 V283.70 H170.83 V284.97 H173.17 V286.23 H175.50 V287.50 H177.69 V287.97 H179.88 V288.44 H182.06 V288.91 H184.25 V289.38 H186.44 V289.84 H188.62 V290.31 H190.81 V290.78 H193.00 V291.25 H195.12 V291.47 H197.25 V291.69 H199.38 V291.91 H201.50 V292.12 H203.62 V292.34 H205.75 V292.56 H207.88 V292.78 H210.00 V293.00 H212.50 V293.25 H215.00 V293.50 H217.50 V293.75 H219.58 V294.17 H221.67 V294.58 H223.75 V295.00 H225.83 V295.42 H227.92 V295.83 H230.00 V296.25 H232.19 V296.41 H234.38 V296.56 H236.56 V296.72 H238.75 V296.88 H240.94 V297.03 H243.12 V297.19 H245.31 V297.34 H247.50 V297.50 H249.58 V297.92 H251.67 V298.33 H253.75 V298.75 H255.83 V299.17 H257.92 V299.58 H260.00 V300.00 H262.22 V300.22 H264.44 V300.44 H266.67 V300.67 H268.89 V300.89 H271.11 V301.11 H273.33 V301.33 H275.56 V301.56 H277.78 V301.78 H280.00 V302.00 H282.14 V302.12 H284.29 V302.25 H286.43 V302.38 H288.57 V302.50 H290.71 V302.62 H292.86 V302.75 H295.00 V302.88 H297.14 V303.00 H299.29 V303.12 H301.43 V303.25 H303.57 V303.38 H305.71 V303.50 H307.86 V303.62 H310.00 V303.75 H312.25 V303.82 H314.50 V303.90 H316.75 V303.98 H319.00 V304.05 H321.25 V304.12 H323.50 V304.20 H325.75 V304.27 H328.00 V304.35 H330.25 V304.43 H332.50 V304.50 H334.58 V304.71 H336.67 V304.92 H338.75 V305.12 H340.83 V305.33 H342.92 V305.54 H345.00 V305.75 H347.25 V305.93 H349.50 V306.10 H351.75 V306.27 H354.00 V306.45 H356.25 V306.62 H358.50 V306.80 H360.75 V306.98 H363.00 V307.15 H365.25 V307.32 H367.50 V307.50 L395.00 307.50 H397.50 V311.25 H399.69 V311.27 H401.88 V311.28 H404.06 V311.30 H406.25 V311.31 H408.44 V311.33 H410.62 V311.34 H412.81 V311.36 H415.00 V311.38 H417.19 V311.39 H419.38 V311.41 H421.56 V311.42 H423.75 V311.44 H425.94 V311.45 H428.12 V311.47 H430.31 V311.48 H432.50 V311.50 H434.47 V312.23 H436.43 V312.97 H438.40 V313.70 L467.00 313.70 H469.00 V314.40 H471.00 V315.10 H473.05 V315.25 H475.10 V315.40 H477.15 V315.55 H479.20 V315.70 H481.40 V315.87 H483.60 V316.03 H485.80 V316.20 H488.00 V316.37 H490.20 V316.53 H492.40 V316.70" fill="none" stroke="#c9405f" stroke-width="1.00" stroke-dasharray="5 4.8"/>
<path d="M91.30 271.40 H93.50 V272.16 H95.70 V272.92 H97.90 V273.68 H100.10 V274.44 H102.30 V275.20 H104.44 V275.82 H106.58 V276.44 H108.72 V277.06 H110.86 V277.68 H113.00 V278.30 H115.35 V280.25 H117.70 V282.20 H120.00 V282.95 H122.30 V283.70 H124.60 V284.45 H126.90 V285.20 H129.47 V285.97 H132.03 V286.73 H134.60 V287.50 H136.53 V288.07 H138.45 V288.65 H140.38 V289.23 H142.30 V289.80 H144.60 V290.20 H146.90 V290.60 H149.20 V291.00 H151.50 V291.40 H153.82 V291.97 H156.15 V292.55 H158.48 V293.12 H160.80 V293.70 H162.83 V294.73 H164.87 V295.77 H166.90 V296.80 H169.01 V297.37 H171.12 V297.94 H173.23 V298.51 H175.34 V299.08 H177.45 V299.65 H179.56 V300.22 H181.67 V300.79 H183.78 V301.36 H185.89 V301.93 H188.00 V302.50 H190.20 V303.00 H192.40 V303.50 H194.60 V304.00 H196.80 V304.50 H199.00 V305.00 H201.20 V305.50 H203.40 V306.00 H205.60 V306.50 H207.80 V307.00 H210.00 V307.50 H212.22 V307.83 H214.44 V308.17 H216.67 V308.50 H218.89 V308.83 H221.11 V309.17 H223.33 V309.50 H225.56 V309.83 H227.78 V310.17 H230.00 V310.50 H232.00 V311.06 H234.00 V311.62 H236.00 V312.18 H238.00 V312.74 H240.00 V313.30 H242.29 V313.37 H244.57 V313.44 H246.86 V313.51 H249.14 V313.59 H251.43 V313.66 H253.71 V313.73 H256.00 V313.80 H258.50 V314.80 H261.00 V315.80 H263.19 V315.99 H265.38 V316.18 H267.56 V316.36 H269.75 V316.55 H271.94 V316.74 H274.12 V316.93 H276.31 V317.11 H278.50 V317.30 H280.77 V317.36 H283.05 V317.43 H285.32 V317.49 H287.59 V317.55 H289.86 V317.62 H292.14 V317.68 H294.41 V317.75 H296.68 V317.81 H298.95 V317.87 H301.23 V317.94 H303.50 V318.00 H306.00 V318.53 H308.50 V319.07 H311.00 V319.60 H313.00 V320.13 H315.00 V320.67 H317.00 V321.20 L336.00 321.20 H338.00 V321.85 H340.00 V322.50 H342.29 V322.71 H344.58 V322.92 H346.88 V323.12 H349.17 V323.33 H351.46 V323.54 H353.75 V323.75 H356.04 V323.96 H358.33 V324.17 H360.62 V324.38 H362.92 V324.58 H365.21 V324.79 H367.50 V325.00 H369.58 V325.21 H371.67 V325.42 H373.75 V325.62 H375.83 V325.83 H377.92 V326.04 H380.00 V326.25 L397.50 326.25 H400.00 V329.50 L432.00 329.50 H434.15 V330.75 H436.30 V332.00 H439.40 V336.10 L467.00 336.10 H470.00 V339.20 H473.00 V344.30 L479.20 344.30 H481.20 V347.30 L481.20 354.90 L496.50 354.90" fill="none" stroke="#c9405f" stroke-width="1.00" stroke-dasharray="5 4.8"/>
<path d="M91.30 271.40 H93.28 V271.60 H95.25 V271.80 H97.22 V272.00 H99.20 V272.20 H101.36 V272.80 H103.52 V273.40 H105.68 V274.00 H107.84 V274.60 H110.00 V275.20 H112.16 V275.96 H114.32 V276.72 H116.48 V277.48 H118.64 V278.24 H120.80 V279.00 H123.10 V279.80 H125.40 V280.60 H127.70 V281.40 H130.00 V282.20 H132.07 V282.70 H134.13 V283.20 H136.20 V283.70 H138.73 V284.20 H141.27 V284.70 H143.80 V285.20 H145.96 V285.36 H148.12 V285.52 H150.28 V285.68 H152.44 V285.84 H154.60 V286.00 H156.53 V286.05 H158.45 V286.10 H160.38 V286.15 H162.30 V286.20 H164.87 V286.57 H167.43 V286.93 H170.00 V287.30 H172.75 V287.65 H175.50 V288.00 H177.66 V288.04 H179.81 V288.07 H181.97 V288.11 H184.12 V288.15 H186.28 V288.19 H188.44 V288.23 H190.59 V288.26 H192.75 V288.30 H194.91 V288.34 H197.06 V288.38 H199.22 V288.41 H201.38 V288.45 H203.53 V288.49 H205.69 V288.53 H207.84 V288.56 H210.00 V288.60 H211.50 V291.40 L265.00 291.40" fill="none" stroke="#36a2d2" stroke-width="1.00"/>
<path d="M91.30 271.40 H93.67 V271.97 H96.05 V272.55 H98.42 V273.12 H100.80 V273.70 H103.10 V274.07 H105.40 V274.45 H107.70 V274.82 H110.00 V275.20 H111.50 V276.80 H113.83 V277.35 H116.15 V277.90 H118.47 V278.45 H120.80 V279.00 H122.72 V279.60 H124.65 V280.20 H126.58 V280.80 H128.50 V281.40 H131.07 V282.17 H133.63 V282.93 H136.20 V283.70 H138.73 V284.20 H141.27 V284.70 H143.80 V285.20 H146.37 V285.73 H148.93 V286.27 H151.50 V286.80 H154.07 V287.53 H156.63 V288.27 H159.20 V289.00 H161.36 V289.48 H163.52 V289.96 H165.68 V290.44 H167.84 V290.92 H170.00 V291.40 H172.75 V292.57 H175.50 V293.75 H177.58 V294.17 H179.67 V294.58 H181.75 V295.00 H183.83 V295.42 H185.92 V295.83 H188.00 V296.25 H190.08 V296.67 H192.17 V297.08 H194.25 V297.50 H196.33 V297.92 H198.42 V298.33 H200.50 V298.75 H202.88 V299.38 H205.25 V300.00 H207.62 V300.62 H210.00 V301.25 H212.08 V301.67 H214.17 V302.08 H216.25 V302.50 H218.33 V302.92 H220.42 V303.33 H222.50 V303.75 H224.58 V303.96 H226.67 V304.17 H228.75 V304.38 H230.83 V304.58 H232.92 V304.79 H235.00 V305.00 H237.50 V305.25 H240.00 V305.50 H242.50 V305.75 H244.69 V305.97 H246.88 V306.19 H249.06 V306.41 H251.25 V306.62 H253.44 V306.84 H255.62 V307.06 H257.81 V307.28 H260.00 V307.50 H262.50 V308.50 H265.00 V309.50 H267.22 V309.61 H269.44 V309.72 H271.67 V309.83 H273.89 V309.94 H276.11 V310.06 H278.33 V310.17 H280.56 V310.28 H282.78 V310.39 H285.00 V310.50 H287.22 V310.58 H289.44 V310.67 H291.67 V310.75 H293.89 V310.83 H296.11 V310.92 H298.33 V311.00 H300.56 V311.08 H302.78 V311.17 H305.00 V311.25 H307.50 V311.67 H310.00 V312.08 H312.50 V312.50 H314.50 V312.60 H316.50 V312.70 H318.50 V312.80 H320.50 V312.90 H322.50 V313.00 L360.00 313.00 L360.00 315.00 L380.00 315.00 L380.00 317.50 L397.50 317.50 L397.50 321.25 L432.50 321.25 H435.00 V324.00 H436.70 V325.30 H438.40 V326.60 L468.00 326.60 L468.00 332.70 L479.50 332.70 L479.50 340.60 L496.50 340.60" fill="none" stroke="#bb1a3d" stroke-width="1.00"/>
<line x1="212.50" y1="290.20" x2="212.50" y2="292.60" stroke="#1f5f85" stroke-width="0.8"/>
<line x1="217.50" y1="290.20" x2="217.50" y2="292.60" stroke="#1f5f85" stroke-width="0.8"/>
<line x1="222.50" y1="290.20" x2="222.50" y2="292.60" stroke="#1f5f85" stroke-width="0.8"/>
<line x1="232.50" y1="290.20" x2="232.50" y2="292.60" stroke="#1f5f85" stroke-width="0.8"/>
<line x1="242.50" y1="290.20" x2="242.50" y2="292.60" stroke="#1f5f85" stroke-width="0.8"/>
<line x1="255.00" y1="290.20" x2="255.00" y2="292.60" stroke="#1f5f85" stroke-width="0.8"/>
<line x1="257.50" y1="290.20" x2="257.50" y2="292.60" stroke="#1f5f85" stroke-width="0.8"/>
<line x1="264.00" y1="290.20" x2="264.00" y2="292.60" stroke="#1f5f85" stroke-width="0.8"/>
<line x1="183.00" y1="287.30" x2="183.00" y2="289.50" stroke="#1f5f85" stroke-width="0.8"/>
<line x1="188.00" y1="287.30" x2="188.00" y2="289.50" stroke="#1f5f85" stroke-width="0.8"/>
<line x1="192.00" y1="287.30" x2="192.00" y2="289.50" stroke="#1f5f85" stroke-width="0.8"/>
<line x1="197.00" y1="287.30" x2="197.00" y2="289.50" stroke="#1f5f85" stroke-width="0.8"/>
<line x1="203.00" y1="287.30" x2="203.00" y2="289.50" stroke="#1f5f85" stroke-width="0.8"/>
<line x1="207.00" y1="287.30" x2="207.00" y2="289.50" stroke="#1f5f85" stroke-width="0.8"/>
<line x1="215.00" y1="300.05" x2="215.00" y2="302.45" stroke="#6e1030" stroke-width="0.8"/>
<line x1="226.00" y1="302.55" x2="226.00" y2="304.95" stroke="#6e1030" stroke-width="0.8"/>
<line x1="238.00" y1="303.80" x2="238.00" y2="306.20" stroke="#6e1030" stroke-width="0.8"/>
<line x1="248.00" y1="304.55" x2="248.00" y2="306.95" stroke="#6e1030" stroke-width="0.8"/>
<line x1="258.00" y1="304.55" x2="258.00" y2="306.95" stroke="#6e1030" stroke-width="0.8"/>
<line x1="268.00" y1="308.30" x2="268.00" y2="310.70" stroke="#6e1030" stroke-width="0.8"/>
<line x1="278.00" y1="308.30" x2="278.00" y2="310.70" stroke="#6e1030" stroke-width="0.8"/>
<line x1="290.00" y1="309.30" x2="290.00" y2="311.70" stroke="#6e1030" stroke-width="0.8"/>
<line x1="300.00" y1="309.30" x2="300.00" y2="311.70" stroke="#6e1030" stroke-width="0.8"/>
<line x1="318.00" y1="311.30" x2="318.00" y2="313.70" stroke="#6e1030" stroke-width="0.8"/>
<line x1="331.00" y1="311.80" x2="331.00" y2="314.20" stroke="#6e1030" stroke-width="0.8"/>
<line x1="334.00" y1="311.80" x2="334.00" y2="314.20" stroke="#6e1030" stroke-width="0.8"/>
<line x1="337.00" y1="311.80" x2="337.00" y2="314.20" stroke="#6e1030" stroke-width="0.8"/>
<line x1="353.00" y1="311.80" x2="353.00" y2="314.20" stroke="#6e1030" stroke-width="0.8"/>
<line x1="356.00" y1="311.80" x2="356.00" y2="314.20" stroke="#6e1030" stroke-width="0.8"/>
<line x1="363.00" y1="313.80" x2="363.00" y2="316.20" stroke="#6e1030" stroke-width="0.8"/>
<line x1="367.00" y1="313.80" x2="367.00" y2="316.20" stroke="#6e1030" stroke-width="0.8"/>
<line x1="371.00" y1="313.80" x2="371.00" y2="316.20" stroke="#6e1030" stroke-width="0.8"/>
<line x1="374.00" y1="313.80" x2="374.00" y2="316.20" stroke="#6e1030" stroke-width="0.8"/>
<line x1="382.00" y1="316.30" x2="382.00" y2="318.70" stroke="#6e1030" stroke-width="0.8"/>
<line x1="387.00" y1="316.30" x2="387.00" y2="318.70" stroke="#6e1030" stroke-width="0.8"/>
<line x1="390.00" y1="316.30" x2="390.00" y2="318.70" stroke="#6e1030" stroke-width="0.8"/>
<line x1="400.00" y1="320.05" x2="400.00" y2="322.45" stroke="#6e1030" stroke-width="0.8"/>
<line x1="403.00" y1="320.05" x2="403.00" y2="322.45" stroke="#6e1030" stroke-width="0.8"/>
<line x1="406.00" y1="320.05" x2="406.00" y2="322.45" stroke="#6e1030" stroke-width="0.8"/>
<line x1="410.00" y1="320.05" x2="410.00" y2="322.45" stroke="#6e1030" stroke-width="0.8"/>
<line x1="413.00" y1="320.05" x2="413.00" y2="322.45" stroke="#6e1030" stroke-width="0.8"/>
<line x1="416.00" y1="320.05" x2="416.00" y2="322.45" stroke="#6e1030" stroke-width="0.8"/>
<line x1="420.00" y1="320.05" x2="420.00" y2="322.45" stroke="#6e1030" stroke-width="0.8"/>
<line x1="423.00" y1="320.05" x2="423.00" y2="322.45" stroke="#6e1030" stroke-width="0.8"/>
<line x1="426.00" y1="320.05" x2="426.00" y2="322.45" stroke="#6e1030" stroke-width="0.8"/>
<line x1="429.00" y1="320.05" x2="429.00" y2="322.45" stroke="#6e1030" stroke-width="0.8"/>
<line x1="441.00" y1="325.40" x2="441.00" y2="327.80" stroke="#6e1030" stroke-width="0.8"/>
<line x1="444.00" y1="325.40" x2="444.00" y2="327.80" stroke="#6e1030" stroke-width="0.8"/>
<line x1="447.00" y1="325.40" x2="447.00" y2="327.80" stroke="#6e1030" stroke-width="0.8"/>
<line x1="450.00" y1="325.40" x2="450.00" y2="327.80" stroke="#6e1030" stroke-width="0.8"/>
<line x1="462.70" y1="325.40" x2="462.70" y2="327.80" stroke="#6e1030" stroke-width="0.8"/>
<line x1="472.00" y1="331.50" x2="472.00" y2="333.90" stroke="#6e1030" stroke-width="0.8"/>
<line x1="477.00" y1="331.50" x2="477.00" y2="333.90" stroke="#6e1030" stroke-width="0.8"/>
<line x1="485.00" y1="339.40" x2="485.00" y2="341.80" stroke="#6e1030" stroke-width="0.8"/>
<line x1="490.00" y1="339.40" x2="490.00" y2="341.80" stroke="#6e1030" stroke-width="0.8"/>
<line x1="494.00" y1="339.40" x2="494.00" y2="341.80" stroke="#6e1030" stroke-width="0.8"/>
<line x1="385.8" y1="272.10" x2="396.5" y2="272.10" stroke="#6aa3d2" stroke-width="0.9"/>
<text x="399.70" y="274.45" font-size="7.00" text-anchor="start" fill="#2a2a2a" textLength="112.44" lengthAdjust="spacingAndGlyphs">Epcoritamab-unadjusted OS (N = 128)</text>
<line x1="385.8" y1="280.60" x2="396.5" y2="280.60" stroke="#c4dde9" stroke-width="0.9"/>
<text x="399.70" y="282.95" font-size="7.00" text-anchor="start" fill="#2a2a2a" textLength="101.43" lengthAdjust="spacingAndGlyphs">Epcoritamab-adjusted OS (N = 44)</text>
<line x1="385.8" y1="288.90" x2="396.5" y2="288.90" stroke="#c66a82" stroke-width="0.9"/>
<text x="399.70" y="291.25" font-size="7.00" text-anchor="start" fill="#2a2a2a" textLength="80.9" lengthAdjust="spacingAndGlyphs">SCHOLAR-5 OS (N = 206)</text>
<text x="76.90" y="416.60" font-size="6.89" text-anchor="end" fill="#2a2a2a" textLength="29.26" lengthAdjust="spacingAndGlyphs">No. at risk</text>
<text x="76.90" y="427.20" font-size="6.89" text-anchor="end" fill="#2a2a2a" textLength="70.10" lengthAdjust="spacingAndGlyphs">Epcoritamab unadjusted</text>
<text x="76.90" y="437.80" font-size="6.89" text-anchor="end" fill="#2a2a2a" textLength="60.6" lengthAdjust="spacingAndGlyphs">Pooled SCHOLAR-5</text>
<text x="91.50" y="428.00" font-size="7.00" text-anchor="middle" fill="#2a2a2a" textLength="11.01" lengthAdjust="spacingAndGlyphs">128</text>
<text x="91.50" y="438.60" font-size="7.00" text-anchor="middle" fill="#2a2a2a" textLength="11.01" lengthAdjust="spacingAndGlyphs">206</text>
<text x="137.56" y="428.00" font-size="7.00" text-anchor="middle" fill="#2a2a2a" textLength="11.01" lengthAdjust="spacingAndGlyphs">104</text>
<text x="137.56" y="438.60" font-size="7.00" text-anchor="middle" fill="#2a2a2a" textLength="11.01" lengthAdjust="spacingAndGlyphs">172</text>
<text x="183.62" y="428.00" font-size="7.00" text-anchor="middle" fill="#2a2a2a" textLength="7.34" lengthAdjust="spacingAndGlyphs">54</text>
<text x="183.62" y="438.60" font-size="7.00" text-anchor="middle" fill="#2a2a2a" textLength="11.01" lengthAdjust="spacingAndGlyphs">139</text>
<text x="229.68" y="428.00" font-size="7.00" text-anchor="middle" fill="#2a2a2a" textLength="7.34" lengthAdjust="spacingAndGlyphs">15</text>
<text x="229.68" y="438.60" font-size="7.00" text-anchor="middle" fill="#2a2a2a" textLength="10.52" lengthAdjust="spacingAndGlyphs">112</text>
<text x="275.74" y="428.00" font-size="7.00" text-anchor="middle" fill="#2a2a2a" textLength="3.67" lengthAdjust="spacingAndGlyphs">0</text>
<text x="275.74" y="438.60" font-size="7.00" text-anchor="middle" fill="#2a2a2a" textLength="7.34" lengthAdjust="spacingAndGlyphs">88</text>
<text x="321.80" y="428.00" font-size="7.00" text-anchor="middle" fill="#2a2a2a" textLength="3.67" lengthAdjust="spacingAndGlyphs">0</text>
<text x="321.80" y="438.60" font-size="7.00" text-anchor="middle" fill="#2a2a2a" textLength="7.34" lengthAdjust="spacingAndGlyphs">70</text>
<text x="367.86" y="428.00" font-size="7.00" text-anchor="middle" fill="#2a2a2a" textLength="3.67" lengthAdjust="spacingAndGlyphs">0</text>
<text x="367.86" y="438.60" font-size="7.00" text-anchor="middle" fill="#2a2a2a" textLength="7.34" lengthAdjust="spacingAndGlyphs">50</text>
<text x="413.92" y="428.00" font-size="7.00" text-anchor="middle" fill="#2a2a2a" textLength="3.67" lengthAdjust="spacingAndGlyphs">0</text>
<text x="413.92" y="438.60" font-size="7.00" text-anchor="middle" fill="#2a2a2a" textLength="7.34" lengthAdjust="spacingAndGlyphs">31</text>
<text x="459.98" y="428.00" font-size="7.00" text-anchor="middle" fill="#2a2a2a" textLength="3.67" lengthAdjust="spacingAndGlyphs">0</text>
<text x="459.98" y="438.60" font-size="7.00" text-anchor="middle" fill="#2a2a2a" textLength="7.34" lengthAdjust="spacingAndGlyphs">12</text>
<text x="506.04" y="428.00" font-size="7.00" text-anchor="middle" fill="#2a2a2a" textLength="3.67" lengthAdjust="spacingAndGlyphs">0</text>
<text x="506.04" y="438.60" font-size="7.00" text-anchor="middle" fill="#2a2a2a" textLength="3.67" lengthAdjust="spacingAndGlyphs">0</text>
<rect x="84" y="451.80" width="429" height="9.70" fill="#28a5df"/>
<rect x="84" y="461.50" width="429" height="10.40" fill="#b5d4ee"/>
<rect x="84" y="471.90" width="429" height="10.30" fill="#e8eff8"/>
<rect x="84" y="461.50" width="429" height="1.1" fill="#c9e7f7"/>
<line x1="84" y1="472.30" x2="513" y2="472.30" stroke="#f4f8fc" stroke-width="0.8"/>
<line x1="235.30" y1="451.80" x2="235.30" y2="482.20" stroke="#e6f4fc" stroke-width="0.9"/>
<line x1="425.40" y1="451.80" x2="425.40" y2="482.20" stroke="#e6f4fc" stroke-width="0.9"/>
<text x="331.00" y="458.95" font-size="6.94" text-anchor="middle" fill="#25344a" textLength="63.34" lengthAdjust="spacingAndGlyphs">Hazard ratio (95% CI)</text>
<text x="469.3" y="458.95" font-size="6.55" text-anchor="middle" fill="#25344a"><tspan font-style="italic">P</tspan>-value</text>
<text x="91.80" y="469.00" font-size="6.94" text-anchor="start" fill="#25344a" textLength="33.14" lengthAdjust="spacingAndGlyphs">Unadjusted</text>
<text x="91.80" y="479.35" font-size="6.94" text-anchor="start" fill="#25344a" textLength="25.49" lengthAdjust="spacingAndGlyphs">Adjusted</text>
<text x="331.00" y="469.00" font-size="6.94" text-anchor="middle" fill="#25344a" textLength="59.00" lengthAdjust="spacingAndGlyphs">0.683 (0.412, 1.134)</text>
<text x="331.00" y="479.35" font-size="6.94" text-anchor="middle" fill="#25344a" textLength="59.00" lengthAdjust="spacingAndGlyphs">0.313 (0.157, 0.627)</text>
<text x="469.30" y="469.00" font-size="6.94" text-anchor="middle" fill="#25344a" textLength="12.75" lengthAdjust="spacingAndGlyphs">.140</text>
<text x="469.30" y="479.35" font-size="6.94" text-anchor="middle" fill="#25344a" textLength="12.75" lengthAdjust="spacingAndGlyphs">.001</text>
<rect x="0.5" y="0.5" width="519" height="489" fill="none" stroke="#4c4c4c" stroke-width="1"/>
</svg>
</body></html>
